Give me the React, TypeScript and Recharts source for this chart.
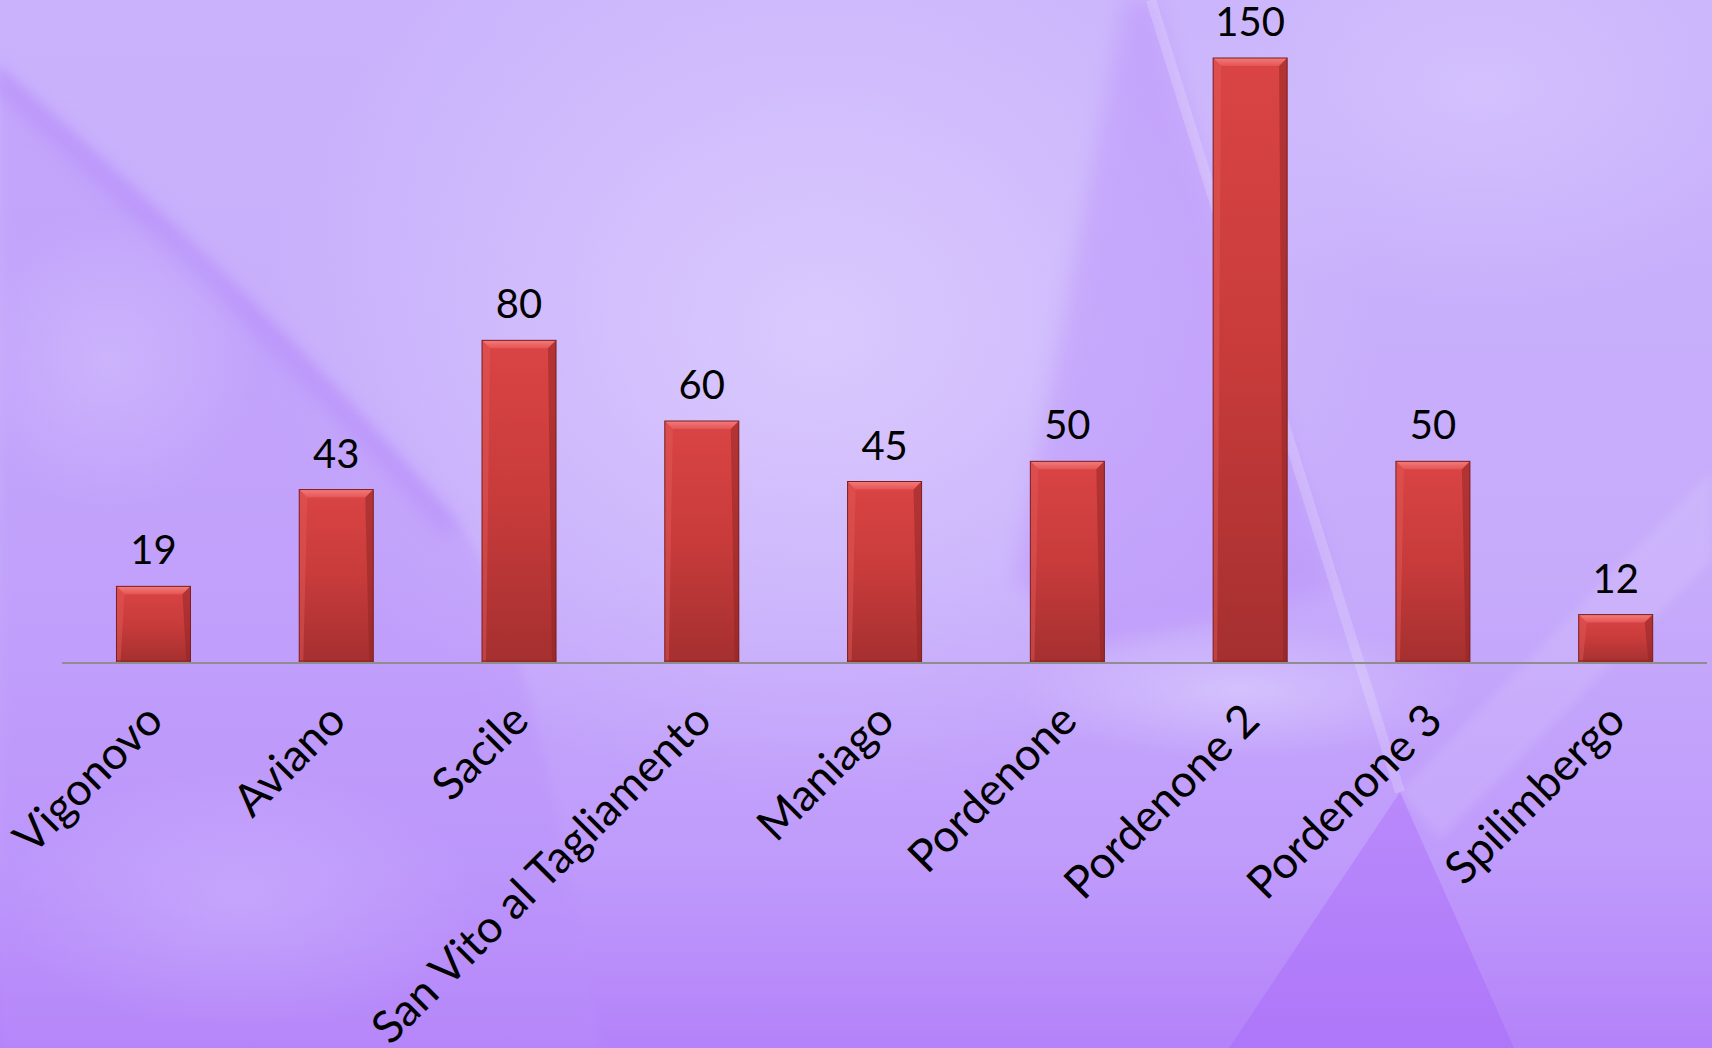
import React from 'react'
import { BarChart, Bar, XAxis, YAxis, LabelList } from 'recharts'

const towns = [
  'Vigonovo',
  'Aviano',
  'Sacile',
  'San Vito al Tagliamento',
  'Maniago',
  'Pordenone',
  'Pordenone 2',
  'Pordenone 3',
  'Spilimbergo'
]
const counts = [19, 43, 80, 60, 45, 50, 150, 50, 12]

const data = towns.map((name, i) => ({ name, value: counts[i] }))

const FONT = 'Lato, "Open Sans", sans-serif'

const BevelBar = (props: any) => {
  const { x, y, width, height } = props
  if (!height || height <= 0) return null
  const b = Math.min(8, height / 3)
  const s = 4
  return (
    <g>
      <rect x={x} y={y} width={width} height={height} fill="url(#barBody)" />
      {/* top bevel */}
      <polygon
        points={`${x},${y} ${x + width},${y} ${x + width - b},${y + b} ${x + b},${y + b}`}
        fill="url(#barTop)"
      />
      {/* side strips */}
      <polygon
        points={`${x},${y} ${x + b},${y + b} ${x + s},${y + height} ${x},${y + height}`}
        fill="#e35a5a"
        opacity={0.45}
      />
      <polygon
        points={`${x + width},${y} ${x + width - b},${y + b} ${x + width - s},${y + height} ${x + width},${y + height}`}
        fill="#8e2424"
        opacity={0.5}
      />
      <rect x={x} y={y + height - 3} width={width} height={3} fill="#8f2626" opacity={0.6} />
      <rect x={x} y={y} width={width} height={height} fill="none" stroke="#7c1e1e" strokeWidth={1} />
    </g>
  )
}

const TownTick = (props: any) => {
  const { x, y, payload } = props
  return (
    <g transform={`translate(${x + 12},${y + 60}) rotate(-45)`}>
      <text x={0} y={0} textAnchor="end" fill="#000" fontSize={45} fontFamily={FONT}>
        {payload.value}
      </text>
    </g>
  )
}

const Backdrop = () => (
  <svg width={1712} height={1048} style={{ position: 'absolute', left: 0, top: 0 }}>
    <defs>
      <linearGradient id="bgBase" x1="0" y1="0" x2="0" y2="1">
        <stop offset="0" stopColor="#cab3fc" />
        <stop offset="0.55" stopColor="#c6abfb" />
        <stop offset="0.82" stopColor="#bf9bfb" />
        <stop offset="1" stopColor="#b482f9" />
      </linearGradient>
      <radialGradient id="glow" cx="0.5" cy="0.5" r="0.5">
        <stop offset="0" stopColor="#dccefe" stopOpacity="0.85" />
        <stop offset="1" stopColor="#dccefe" stopOpacity="0" />
      </radialGradient>
      <linearGradient id="tri" x1="0" y1="0" x2="0" y2="1">
        <stop offset="0" stopColor="#b98afb" />
        <stop offset="1" stopColor="#ae76f9" />
      </linearGradient>
      <linearGradient id="barBody" x1="0" y1="0" x2="0" y2="1">
        <stop offset="0" stopColor="#da4444" />
        <stop offset="0.5" stopColor="#c83b3b" />
        <stop offset="1" stopColor="#a52f2f" />
      </linearGradient>
      <linearGradient id="barTop" x1="0" y1="0" x2="0" y2="1">
        <stop offset="0" stopColor="#f37b7b" />
        <stop offset="1" stopColor="#e45555" />
      </linearGradient>
      <filter id="soft" x="-20%" y="-20%" width="140%" height="140%">
        <feGaussianBlur stdDeviation="10" />
      </filter>
      <filter id="softer" x="-20%" y="-20%" width="140%" height="140%">
        <feGaussianBlur stdDeviation="4" />
      </filter>
    </defs>
    <rect width={1712} height={1048} fill="url(#bgBase)" />
    <ellipse cx={820} cy={330} rx={560} ry={470} fill="url(#glow)" />
    <ellipse cx={1480} cy={90} rx={330} ry={220} fill="url(#glow)" opacity={0.6} />
    {/* left swoop */}
    <path
      d="M0,67 C150,200 300,340 460,525 C520,620 560,800 600,1048 L0,1048 Z"
      fill="#b990fb"
      opacity={0.35}
      filter="url(#softer)"
    />
    <path
      d="M-10,72 C140,205 290,345 452,530"
      stroke="#b184fa"
      strokeWidth={16}
      fill="none"
      opacity={0.55}
      filter="url(#soft)"
    />
    <ellipse cx={110} cy={360} rx={150} ry={150} fill="url(#glow)" opacity={0.45} />
    <ellipse cx={240} cy={900} rx={240} ry={130} fill="url(#glow)" opacity={0.35} />
    {/* dark facet behind the tall bar */}
    <polygon
      points="1125,0 1155,0 1336,590 1095,650 1015,580 1075,260"
      fill="#b78cfa"
      opacity={0.4}
      filter="url(#soft)"
    />
    <ellipse cx={1240} cy={690} rx={230} ry={70} fill="url(#glow)" opacity={0.8} />
    {/* light streak */}
    <line x1={1151} y1={0} x2={1400} y2={792} stroke="#ffffff" strokeWidth={10} opacity={0.18} />
    <polygon points="1400,792 1712,470 1712,560 1440,840" fill="#ffffff" opacity={0.1} filter="url(#softer)" />
    <polygon points="1229,1048 1400,792 1514,1048" fill="url(#tri)" />
  </svg>
)

export default function App() {
  return (
    <div style={{ position: 'absolute', left: 0, top: 0, width: 1712, height: 1048 }}>
      <Backdrop />
      <div style={{ position: 'absolute', left: 0, top: 0 }}>
        <BarChart
          width={1712}
          height={1048}
          data={data}
          margin={{ top: 58, right: 5, left: 62, bottom: 0 }}
          barCategoryGap="29.8%"
        >
          <XAxis
            dataKey="name"
            interval={0}
            height={385}
            tickLine={false}
            tickSize={0}
            tickMargin={0}
            axisLine={{ stroke: '#8e8e8e', strokeWidth: 2 }}
            tick={<TownTick />}
          />
          <YAxis hide domain={[0, 150]} />
          <Bar dataKey="value" shape={<BevelBar />} isAnimationActive={false}>
            <LabelList
              dataKey="value"
              position="top"
              offset={22}
              fill="#000"
              fontSize={40}
              fontFamily={FONT}
            />
          </Bar>
        </BarChart>
      </div>
    </div>
  )
}
